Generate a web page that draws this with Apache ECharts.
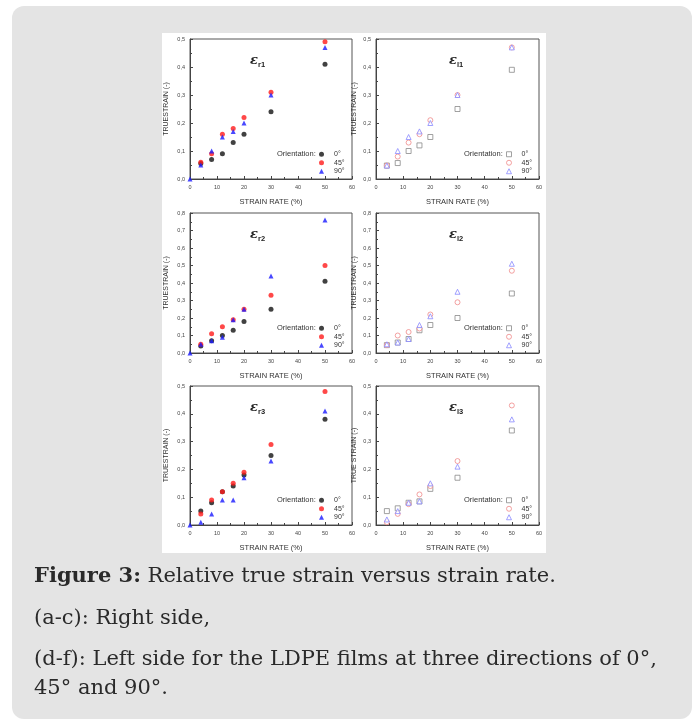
<!DOCTYPE html>
<html>
<head>
<meta charset="utf-8">
<script src="https://cdn.jsdelivr.net/npm/echarts@6/dist/echarts.min.js"></script>
<style>
  html, body { margin: 0; padding: 0; background: #fff; }
  #main { width: 696px; height: 722px; }
</style>
</head>
<body>
<div id="main"></div>
<script>
// strain rates (%) of the measured points
const strainRates = [4, 8, 12, 16, 20, 30, 50];
const strainRates90 = [0, 4, 8, 12, 16, 20, 30, 50];

// right side (filled markers)
const r1_0 = [0.055, 0.07, 0.09, 0.13, 0.16, 0.24, 0.41];
const r1_45 = [0.06, 0.09, 0.16, 0.18, 0.22, 0.31, 0.49];
const r1_90 = [0, 0.05, 0.10, 0.15, 0.17, 0.20, 0.30, 0.47];

const r2_0 = [0.04, 0.07, 0.10, 0.13, 0.18, 0.25, 0.41];
const r2_45 = [0.05, 0.11, 0.15, 0.19, 0.25, 0.33, 0.50];
const r2_90 = [0, 0.05, 0.07, 0.09, 0.19, 0.25, 0.44, 0.76];

const r3_0 = [0.05, 0.08, 0.12, 0.14, 0.18, 0.25, 0.38];
const r3_45 = [0.04, 0.09, 0.12, 0.15, 0.19, 0.29, 0.48];
const r3_90 = [0, 0.01, 0.04, 0.09, 0.09, 0.17, 0.23, 0.41];

// left side (open markers)
const l1_0 = [0.048, 0.057, 0.10, 0.12, 0.15, 0.25, 0.39];
const l1_45 = [0.048, 0.08, 0.13, 0.16, 0.21, 0.30, 0.47];
const l1_90 = [0.048, 0.10, 0.15, 0.17, 0.20, 0.30, 0.47];

const l2_0 = [0.045, 0.06, 0.08, 0.13, 0.16, 0.20, 0.34];
const l2_45 = [0.045, 0.10, 0.12, 0.14, 0.22, 0.29, 0.47];
const l2_90 = [0.05, 0.06, 0.08, 0.16, 0.21, 0.35, 0.51];

const l3_0 = [0.05, 0.06, 0.08, 0.085, 0.13, 0.17, 0.34];
const l3_45 = [0.01, 0.04, 0.075, 0.11, 0.14, 0.23, 0.43];
const l3_90 = [0.02, 0.05, 0.08, 0.085, 0.15, 0.21, 0.38];

const orientations = ['0°', '45°', '90°'];

function pairs(xs, ys) {
    return ys.map(function (v, i) { return [xs[i], v]; });
}

// panel layout
const colLeft = [190, 376];
const colWidth = [162, 163];
const rowTop = [39, 213, 386];
const rowHeight = [140, 140, 139];
const yMax = [0.5, 0.8, 0.5];

const panels = [
    { col: 0, row: 0, sub: 'r1', yName: 'TRUESTRAIN (-)', data: [r1_0, r1_45, r1_90], open: false },
    { col: 1, row: 0, sub: 'l1', yName: 'TRUESTRAIN (-)', data: [l1_0, l1_45, l1_90], open: true },
    { col: 0, row: 1, sub: 'r2', yName: 'TRUESTRAIN (-)', data: [r2_0, r2_45, r2_90], open: false },
    { col: 1, row: 1, sub: 'l2', yName: 'TRUESTRAIN (-)', data: [l2_0, l2_45, l2_90], open: true },
    { col: 0, row: 2, sub: 'r3', yName: 'TRUESTRAIN (-)', data: [r3_0, r3_45, r3_90], open: false },
    { col: 1, row: 2, sub: 'l3', yName: 'TRUE STRAIN (-)', data: [l3_0, l3_45, l3_90], open: true }
];

const filledColors = ['#111111', '#ff1a1a', '#1a1aff'];
const openColors = ['#8a8a8a', '#f08a8a', '#8a8aff'];
const symbols = ['circle', 'circle', 'triangle'];
const openSymbols = ['rect', 'circle', 'triangle'];

const axisFont = 'Liberation Sans';
const chart = echarts.init(document.getElementById('main'));

let grids = [], xAxes = [], yAxes = [], series = [], legends = [];
let graphics = [
    { type: 'rect', z: -10, shape: { x: 12, y: 6, width: 680, height: 713, r: 12 }, style: { fill: '#e4e4e4' } },
    { type: 'rect', z: -9, shape: { x: 162, y: 33, width: 384, height: 520 }, style: { fill: '#ffffff' } }
];

panels.forEach(function (p, k) {
    const left = colLeft[p.col], top = rowTop[p.row];
    const w = colWidth[p.col], h = rowHeight[p.row];
    grids.push({ left: left, top: top, width: w, height: h, show: true, borderColor: '#555', borderWidth: 1, backgroundColor: 'transparent' });
    xAxes.push({
        gridIndex: k, type: 'value', min: 0, max: 60, interval: 10,
        name: 'STRAIN RATE (%)', nameLocation: 'middle', nameGap: 19,
        nameTextStyle: { fontSize: 7.5, color: '#333', fontFamily: axisFont },
        axisLine: { lineStyle: { color: '#444' } },
        axisTick: { inside: true, length: 3, lineStyle: { color: '#444' } },
        minorTick: { show: true, splitNumber: 2, length: 2, lineStyle: { color: '#444' } },
        axisLabel: { fontSize: 5.5, color: '#444', margin: 5, fontFamily: axisFont },
        splitLine: { show: false }
    });
    yAxes.push({
        gridIndex: k, type: 'value', min: 0, max: yMax[p.row], interval: 0.1,
        name: p.yName, nameLocation: 'middle', nameGap: p.col === 0 ? 20 : 18,
        nameTextStyle: { fontSize: 7, color: '#333', fontFamily: axisFont },
        axisLine: { lineStyle: { color: '#444' } },
        axisTick: { inside: true, length: 3, lineStyle: { color: '#444' } },
        minorTick: { show: true, splitNumber: 2, length: 2, lineStyle: { color: '#444' } },
        axisLabel: {
            fontSize: 5.5, color: '#444', margin: 5, fontFamily: axisFont,
            formatter: function (v) { return v.toFixed(1).replace('.', ','); }
        },
        splitLine: { show: false }
    });
    p.data.forEach(function (vals, j) {
        const xs = (!p.open && j === 2) ? strainRates90 : strainRates;
        const col = p.open ? openColors[j] : filledColors[j];
        series.push({
            type: 'scatter', name: orientations[j], xAxisIndex: k, yAxisIndex: k,
            symbol: p.open ? openSymbols[j] : symbols[j],
            symbolSize: 5,
            itemStyle: p.open ? { color: '#fff', borderColor: col, borderWidth: 1 } : { color: col },
            data: pairs(xs, vals)
        });
    });
    // legend box
    legends.push({
        left: left + w - 33, top: top + h - 29, orient: 'vertical', padding: 0,
        itemWidth: 5, itemHeight: 5, itemGap: 0,
        textStyle: { fontSize: 7, color: '#333', fontFamily: axisFont, padding: [0, 0, 0, 5], lineHeight: 8.5 },
        data: orientations.map(function (name, j) {
            const col = p.open ? openColors[j] : filledColors[j];
            return {
                name: name,
                icon: p.open ? openSymbols[j] : symbols[j],
                itemStyle: p.open ? { color: '#fff', borderColor: col, borderWidth: 1 } : { color: col }
            };
        }),
        selectedMode: false
    });
    graphics.push({
        type: 'text', x: left + w - 75, y: top + h - 25,
        style: { text: 'Orientation:', fontSize: 7.5, fill: '#333', fontFamily: axisFont, verticalAlign: 'middle' }
    });
    // epsilon label
    graphics.push({
        type: 'text', x: left + (p.col === 0 ? 60 : 73), y: top + 22,
        style: { text: 'ε', fontSize: 13, fontStyle: 'italic', fontWeight: 'bold', fill: '#222', fontFamily: 'DejaVu Serif', verticalAlign: 'middle' }
    });
    graphics.push({
        type: 'text', x: left + (p.col === 0 ? 68 : 81), y: top + 26,
        style: { text: p.sub, fontSize: 7.5, fontWeight: 'bold', fill: '#222', fontFamily: axisFont, verticalAlign: 'middle' }
    });
});

// caption
const capFont = 'DejaVu Serif';
const captionLines = [
    { y: 577, text: '{b|Figure 3:} Relative true strain versus strain rate.' },
    { y: 619, text: '(a-c): Right side,' },
    { y: 660, text: '(d-f): Left side for the LDPE films at three directions of 0°,' },
    { y: 689, text: '45° and 90°.' }
];
captionLines.forEach(function (c) {
    graphics.push({
        type: 'text', x: 34, y: c.y,
        style: {
            text: c.text, fontSize: 21, fill: '#2a2a2a', fontFamily: capFont, verticalAlign: 'middle',
            rich: { b: { fontSize: 21, fontWeight: 'bold', fontFamily: capFont, fill: '#2a2a2a' } }
        }
    });
});

chart.setOption({
    backgroundColor: '#ffffff',
    animation: false,
    grid: grids,
    xAxis: xAxes,
    yAxis: yAxes,
    legend: legends,
    series: series,
    graphic: graphics
});
</script>
</body>
</html>
